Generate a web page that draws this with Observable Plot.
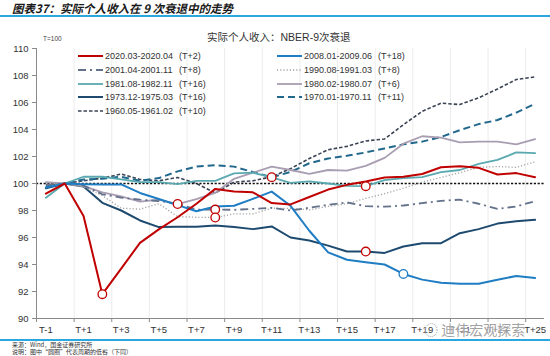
<!DOCTYPE html>
<html><head><meta charset="utf-8">
<script src="https://cdn.jsdelivr.net/npm/d3@7"></script>
<script src="https://cdn.jsdelivr.net/npm/@observablehq/plot@0.6"></script>
<style>
body{margin:0;background:#fff;}
#wrap{position:relative;width:550px;height:356px;overflow:hidden;font-family:"Liberation Sans",Arial,sans-serif;color:#333;}
#wrap svg{position:absolute;left:0;top:0;}
.abs{position:absolute;white-space:nowrap;}
#title{left:12px;top:2px;font-family:"Noto Sans CJK SC",sans-serif;font-weight:bold;font-style:italic;font-size:11.5px;line-height:12px;color:#1a1a1a;}
.bar{position:absolute;left:0;width:550px;height:2px;background:#2aa7df;}
#ctitle{left:207px;top:31px;font-size:10.5px;line-height:13px;font-family:"Liberation Sans","Noto Sans CJK SC",sans-serif;color:#333;}
#t100{left:43px;top:35px;font-size:6.5px;color:#444;}
.leg{position:absolute;height:12px;font-size:9px;line-height:12px;color:#333;white-space:nowrap;}
.leg svg{position:absolute;top:0;}
.leg span{position:absolute;top:0;}
.foot{left:12px;font-size:6px;line-height:7px;font-family:"Noto Sans CJK SC",sans-serif;color:#333;}
#wm{left:424px;top:321px;font-family:"Noto Sans CJK SC",sans-serif;font-size:14px;line-height:17px;color:rgba(120,120,120,0.7);text-shadow:0 0 2px #fff,0 0 2px #fff;}
</style></head><body><div id="wrap"></div><script>
// ---- data ----
const periods = [-1,0,1,2,3,4,5,6,7,8,9,10,11,12,13,14,15,16,17,18,19,20,21,22,23,24,25];
const tickValues = [-1,1,3,5,7,9,11,13,15,17,19,21,23,25];
const tickLabels = ["T-1","T+1","T+3","T+5","T+7","T+9","T+11","T+13","T+15","T+17","T+19","T+21","T+23","T+25"];
const yTicks = [90,92,94,96,98,100,102,104,106,108,110];

const s2020 = [99.25,100,97.6,91.8,93.7,95.6,96.6,97.5,98.5,99.6,99.4,99.35,98.55,98.45,99.0,99.55,99.9,100.15,100.45,100.5,100.7,101.2,101.28,101.16,100.67,100.77,100.47];
const s2008 = [99.7,100,99.95,99.93,99.93,99.3,98.85,98.4,97.95,98.3,98.35,98.86,99.4,98.35,96.5,94.9,94.35,94.17,94.0,93.3,92.88,92.64,92.57,92.57,92.87,93.15,93.0];
const s2001 = [99.9,100,99.85,99.2,98.95,98.8,98.7,98.5,98.07,98.07,98.05,98.12,98.2,98.0,98.2,98.42,98.6,98.32,98.28,98.37,98.55,98.72,98.8,98.5,98.12,98.3,98.69];
const s1990 = [99.95,100,99.75,99.1,98.17,98.1,98.5,97.55,97.5,97.48,97.75,97.75,98.17,98.15,98.05,98.3,98.5,98.9,99.25,99.65,100.1,100.45,100.8,101.2,101.25,101.2,101.6];
const s1981 = [98.95,100,100.5,100.5,100.3,100.1,100.1,99.95,100.2,100.2,100.75,100.8,100.45,100.05,100.15,100.0,99.82,99.8,100.25,100.4,100.47,100.84,101.0,101.45,101.75,102.3,102.25];
const s1980 = [100.1,100,99.8,99.35,99.05,98.65,98.8,98.48,98.85,99.3,100.35,100.8,101.25,101.0,100.72,101.0,100.96,101.3,101.9,102.95,103.5,103.4,103.05,103.1,103.1,102.9,103.28];
const s1973 = [99.65,100,99.78,98.57,98.0,97.26,96.77,96.8,96.8,96.88,96.77,96.62,96.82,96.0,95.78,95.4,94.96,94.96,94.86,95.33,95.58,95.58,96.32,96.62,97.03,97.2,97.31];
const s1970 = [99.75,100,100.3,100.35,100.5,100.2,100.4,100.9,101.25,101.35,101.25,100.85,100.47,100.85,101.5,101.85,102.05,102.3,102.6,102.9,103.1,103.45,103.95,104.4,104.7,105.25,105.9];
const s1960 = [99.9,100,100.2,100.4,100.7,100.3,100.2,100.45,100.0,99.3,100.1,100.2,100.5,101.1,101.85,102.5,102.75,103.15,103.3,104.35,105.35,105.95,105.85,106.35,107.0,107.7,107.9];

const seriesNames = ["2020.03-2020.04","2008.01-2009.06","2001.04-2001.11","1990.08-1991.03","1981.08-1982.11","1980.02-1980.07","1973.12-1975.03","1970.01-1970.11","1960.05-1961.02"];
const troughLabels = ["(T+2)","(T+18)","(T+8)","(T+8)","(T+16)","(T+6)","(T+16)","(T+11)","(T+10)"];
const troughT = [2,18,8,8,16,6,16,11,null];
const seriesValues = [s2020,s2008,s2001,s1990,s1981,s1980,s1973,s1970,s1960];

// ---- styles ----
const styles = [
  {stroke:"#c00000", width:2, dash:null},
  {stroke:"#1f7dc4", width:2, dash:null},
  {stroke:"#63718a", width:1.8, dash:"8,4,2,4"},
  {stroke:"#a3a3a3", width:1.3, dash:"1.2,2"},
  {stroke:"#5aa9b0", width:1.8, dash:null},
  {stroke:"#a99db2", width:1.8, dash:null},
  {stroke:"#1d4a6e", width:2, dash:null},
  {stroke:"#22688c", width:2, dash:"7,4"},
  {stroke:"#3a4354", width:1.6, dash:"3.5,2"}
];
const circleColor = ["#c00000","#1f7dc4","#c00000","#c00000","#c00000","#c00000","#c00000","#c00000","#c00000"];

const rows = [];
seriesValues.forEach((arr,k)=>periods.forEach((t,i)=>rows.push({k, t, v:arr[i]})));
const troughs = [];
troughT.forEach((tt,k)=>{ if(tt!==null){ troughs.push({k, t:tt, v:seriesValues[k][periods.indexOf(tt)]}); } });

const boundaries = d3.range(-1.5, 25.6, 2);
const gridX = d3.range(0.5, 25, 2);

const lineMarks = seriesValues.map((arr,k)=>Plot.line(rows.filter(d=>d.k===k), {
  x:"t", y:"v", stroke:styles[k].stroke, strokeWidth:styles[k].width,
  strokeDasharray: styles[k].dash || undefined, strokeLinejoin:"round", strokeLinecap: styles[k].dash ? "butt" : "round"
}));
const order = [8,7,6,5,4,3,2,1,0];

const chart = Plot.plot({
  width:550, height:340,
  marginLeft:36, marginRight:6, marginTop:48, marginBottom:22,
  style:{fontFamily:"'Liberation Sans',Arial,sans-serif", fontSize:"9.5px", color:"#333", background:"transparent"},
  x:{type:"linear", domain:[-1.5,25.5]},
  y:{domain:[90,110]},
  marks:[
    Plot.ruleX(gridX, {stroke:"#ececec", strokeWidth:1}),
    Plot.ruleY([100], {stroke:"#111", strokeWidth:1.3, strokeDasharray:"2.2,1.6"}),
    ...order.map(k=>lineMarks[k]),
    Plot.dot(troughs, {x:"t", y:"v", r:4.3, fill:"#fff", stroke:d=>circleColor[d.k], strokeWidth:1.3}),
    Plot.ruleX([-1.5], {stroke:"#8a8a8a"}),
    Plot.ruleY([90], {stroke:"#8a8a8a"}),
    Plot.axisX(boundaries, {tickSize:4, stroke:"#8a8a8a", tickFormat:()=>"", label:null}),
    Plot.axisX(tickValues, {tickSize:0, tickPadding:8, fill:"#333", tickFormat:d=>tickLabels[tickValues.indexOf(d)], label:null}),
    Plot.axisY(yTicks, {tickSize:4, tickPadding:4, stroke:"#8a8a8a", fill:"#333", label:null})
  ]
});

const wrap = document.getElementById("wrap");
wrap.appendChild(chart);

function addDiv(html, cls, id, css){
  const d = document.createElement("div");
  d.className = cls; if(id) d.id = id; d.innerHTML = html;
  if(css) Object.assign(d.style, css);
  wrap.appendChild(d); return d;
}
addDiv("图表37：实际个人收入在 9 次衰退中的走势","abs","title");
addDiv("","bar",null,{top:"15px"});
addDiv("实际个人收入：NBER-9次衰退","abs","ctitle");
addDiv("T=100","abs","t100");

// legend (two columns, row-major order)
seriesNames.forEach((name,k)=>{
  const col = k % 2, row = Math.floor(k/2);
  const left = col === 0 ? 78 : 277;
  const top = 50 + row*13.8;
  const st = styles[k];
  const dash = st.dash ? `stroke-dasharray="${st.dash}"` : "";
  const html = `<svg width="26" height="12" style="left:0"><line x1="0" y1="6" x2="25" y2="6" stroke="${st.stroke}" stroke-width="${st.width}" ${dash}/></svg>`+
    `<span style="left:27px">${name}</span><span style="left:101px">${troughLabels[k]}</span>`;
  addDiv(html, "leg", null, {left:left+"px", top:top+"px", width:"160px"});
});

addDiv("","bar",null,{top:"339px"});
addDiv("来源：Wind，国金证券研究所","abs foot",null,{top:"341px"});
addDiv("说明：图中“圆圈”代表周期的低谷（下同）","abs foot",null,{top:"348px"});
addDiv("◌ 迪伟宏观探索","abs","wm");
</script></body></html>
